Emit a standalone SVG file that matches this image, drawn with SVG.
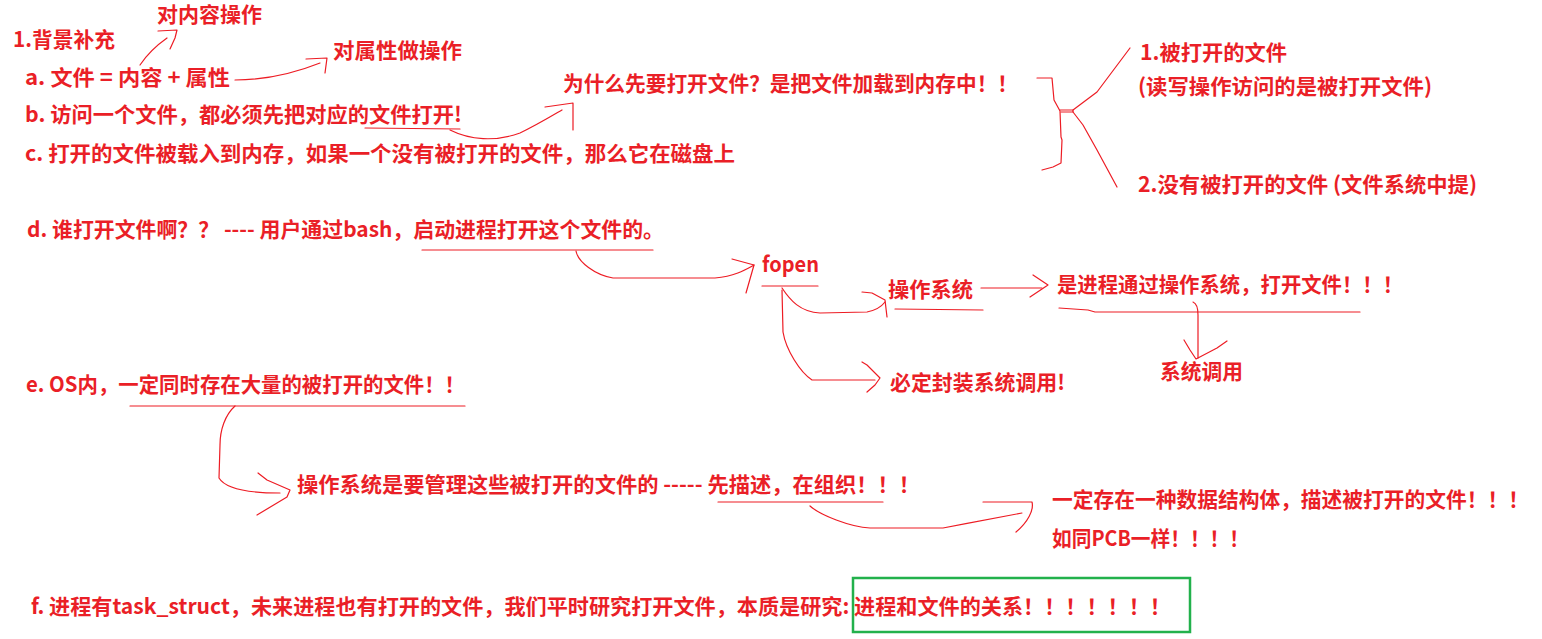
<svg xmlns="http://www.w3.org/2000/svg" width="1542" height="639" viewBox="0 0 1542 639">
<style>
.t{font-family:"Noto Sans CJK SC","Noto Sans",sans-serif;font-weight:bold;fill:#ea1f27;font-size:21px}
.c{fill:none;stroke:#ed1c24;stroke-width:1.2;stroke-linecap:round;stroke-linejoin:round}
.box{fill:none;stroke:#22b14c;stroke-width:2.5}
</style>
<rect width="1542" height="639" fill="#ffffff"/>
<g id="connectors">
<path class="c" d="M140,65 Q150,50 167,38"/>
<path class="c" d="M158,31 L177,30 L175,38 L170,49"/>
<path class="c" d="M235,80 C260,80 290,75 320,63"/>
<path class="c" d="M306,59 L327,58 L325,73"/>
<path class="c" d="M365,128 L460,129"/>
<path class="c" d="M450,130 C470,140 495,142 520,133 C535,126 550,117 562,110"/>
<path class="c" d="M545,107 L573,103 L573,130"/>
<path class="c" d="M1037,78 L1052,78 L1054,100 L1060,111 L1061,137 L1062,140 L1061,163 L1053,167 L1042,170"/>
<path class="c" d="M1060,110 L1073,110 L1073,112 L1061,112"/>
<path class="c" d="M1073,110 L1097,92 L1130,48"/>
<path class="c" d="M1073,112 L1083,125 L1097,150 L1117,187"/>
<path class="c" d="M422,250 L653,250"/>
<path class="c" d="M576,251 C578,262 595,275 613,278 L715,278 C735,276 745,270 754,265"/>
<path class="c" d="M732,259 L754,265 L746,293"/>
<path class="c" d="M762,286 L818,286"/>
<path class="c" d="M782,288 C790,300 800,312 820,313 L867,312 C877,310 882,306 885,302"/>
<path class="c" d="M862,292 L872,293 L885,300 L887,317"/>
<path class="c" d="M895,309 L983,310"/>
<path class="c" d="M981,288 L1042,288"/>
<path class="c" d="M1033,275 L1048,285 L1030,297"/>
<path class="c" d="M1059,308 L1088,310 L1095,312 L1360,312"/>
<path class="c" d="M1193,302 Q1198,304 1198,315 L1198,358"/>
<path class="c" d="M1184,340 L1190,350 L1196,359 L1217,348 L1227,341"/>
<path class="c" d="M782,290 L783,332 C786,350 800,372 812,380 L875,380"/>
<path class="c" d="M862,362 L867,365 L880,378 L875,385 L867,392"/>
<path class="c" d="M130,406 L465,406"/>
<path class="c" d="M235,406 C225,415 220,430 220,445 L219,478 C225,488 245,493 280,493"/>
<path class="c" d="M258,473 L267,480 L290,490 L287,497 L277,503 L257,515"/>
<path class="c" d="M718,502 L883,502"/>
<path class="c" d="M810,506 C820,515 850,527 870,528 L943,528 C970,523 1000,517 1022,513"/>
<path class="c" d="M983,502 L1032,502 C1034,510 1028,522 1016,532"/>
</g>
<g id="n-content-op"><text class="t" x="157" y="22" font-size="20" textLength="105" lengthAdjust="spacingAndGlyphs">对内容操作</text></g>
<g id="n-bg"><text class="t" x="13" y="47" font-size="20" textLength="102" lengthAdjust="spacingAndGlyphs">1.背景补充</text></g>
<g id="n-a"><text class="t" x="25" y="85" textLength="205" lengthAdjust="spacingAndGlyphs">a. 文件 = 内容 + 属性</text></g>
<g id="n-attr-op"><text class="t" x="333" y="58" textLength="129" lengthAdjust="spacingAndGlyphs">对属性做操作</text></g>
<g id="n-b"><text class="t" x="25" y="122" textLength="437" lengthAdjust="spacingAndGlyphs">b. 访问一个文件，都必须先把对应的文件打开!</text></g>
<g id="n-c"><text class="t" x="25" y="161" textLength="710" lengthAdjust="spacingAndGlyphs">c.  打开的文件被载入到内存，如果一个没有被打开的文件，那么它在磁盘上</text></g>
<g id="n-why"><text class="t" x="563" y="91" textLength="455" lengthAdjust="spacingAndGlyphs">为什么先要打开文件？是把文件加载到内存中！！</text></g>
<g id="n-opened"><text class="t" x="1140" y="60" textLength="147" lengthAdjust="spacingAndGlyphs">1.被打开的文件</text>
<text class="t" x="1138" y="94" textLength="294" lengthAdjust="spacingAndGlyphs">(读写操作访问的是被打开文件)</text></g>
<g id="n-unopened"><text class="t" x="1138" y="192" textLength="339" lengthAdjust="spacingAndGlyphs">2.没有被打开的文件 (文件系统中提)</text></g>
<g id="n-d"><text class="t" x="27" y="237" textLength="637" lengthAdjust="spacingAndGlyphs">d. 谁打开文件啊？？  ---- 用户通过bash，启动进程打开这个文件的。</text></g>
<g id="n-fopen"><text class="t" x="762" y="272" textLength="57" lengthAdjust="spacingAndGlyphs">fopen</text></g>
<g id="n-os"><text class="t" x="888" y="297" textLength="85" lengthAdjust="spacingAndGlyphs">操作系统</text></g>
<g id="n-proc-os"><text class="t" x="1057" y="292" textLength="346" lengthAdjust="spacingAndGlyphs">是进程通过操作系统，打开文件！！！</text></g>
<g id="n-syscall"><text class="t" x="1160" y="379" textLength="83" lengthAdjust="spacingAndGlyphs">系统调用</text></g>
<g id="n-wrap"><text class="t" x="890" y="390" textLength="175" lengthAdjust="spacingAndGlyphs">必定封装系统调用!</text></g>
<g id="n-e"><text class="t" x="26" y="392" textLength="439" lengthAdjust="spacingAndGlyphs">e. OS内，一定同时存在大量的被打开的文件！！</text></g>
<g id="n-manage"><text class="t" x="297" y="492" textLength="623" lengthAdjust="spacingAndGlyphs">操作系统是要管理这些被打开的文件的  ----- 先描述，在组织！！！</text></g>
<g id="n-struct"><text class="t" x="1052" y="507" textLength="477" lengthAdjust="spacingAndGlyphs">一定存在一种数据结构体，描述被打开的文件！！！</text>
<text class="t" x="1052" y="546" textLength="197" lengthAdjust="spacingAndGlyphs">如同PCB一样！！！！</text></g>
<g id="n-f"><text class="t" x="31" y="614" textLength="1140" lengthAdjust="spacingAndGlyphs">f. 进程有task_struct，未来进程也有打开的文件，我们平时研究打开文件，本质是研究: 进程和文件的关系！！！！！！！</text>
<rect class="box" x="853" y="578" width="337" height="54"/></g>
</svg>
